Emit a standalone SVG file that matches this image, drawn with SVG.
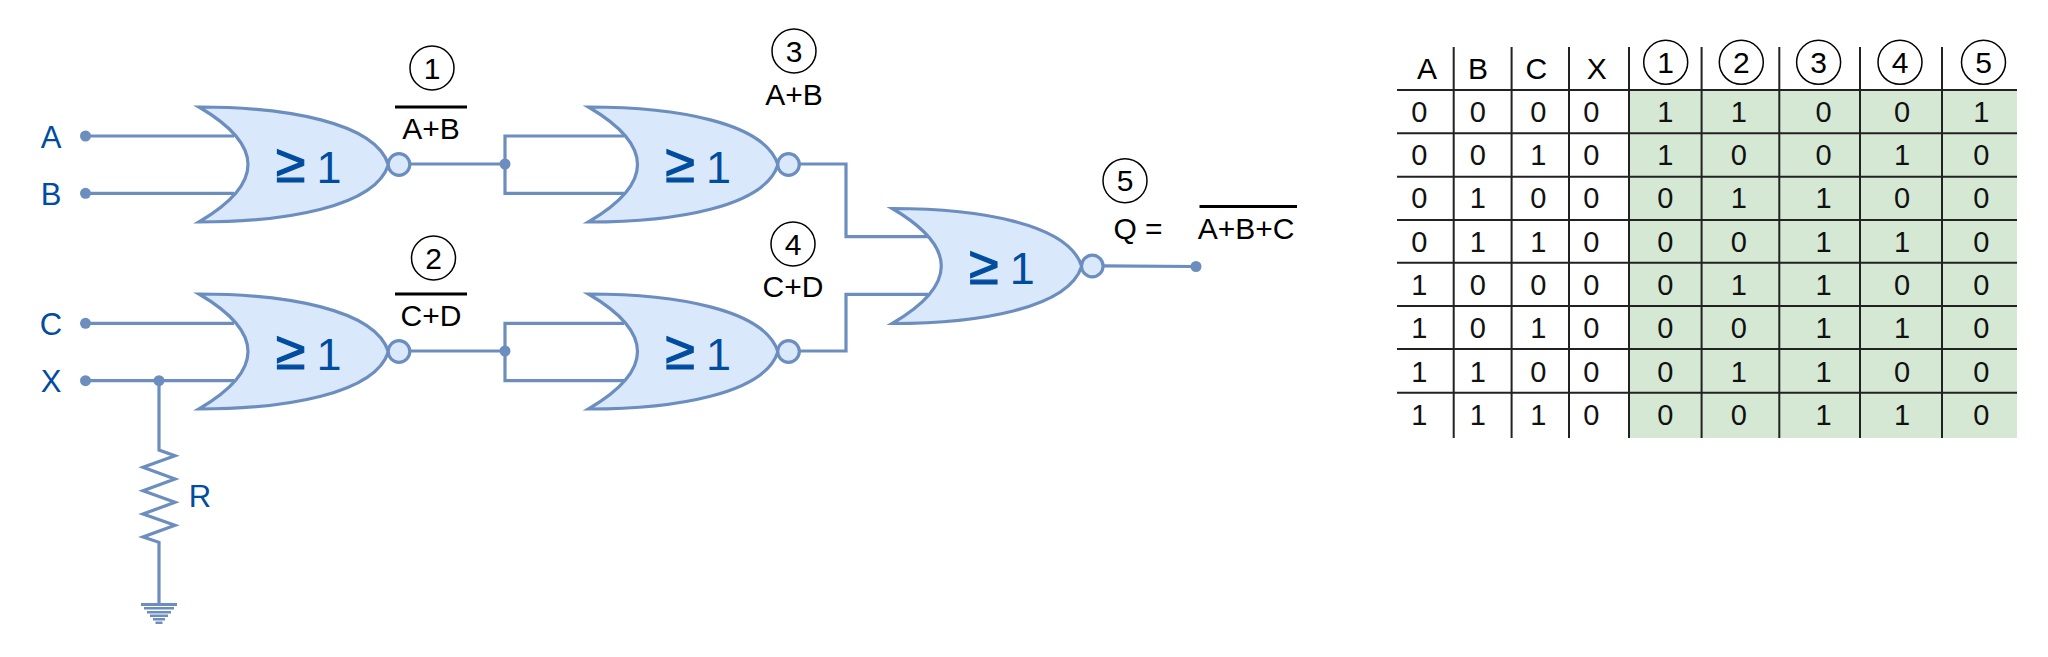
<svg xmlns="http://www.w3.org/2000/svg" width="2048" height="657" viewBox="0 0 2048 657">
<style>
text{font-family:"Liberation Sans",Arial,sans-serif}
.w{fill:none;stroke:#6c8ebf;stroke-width:3.200}
.d{fill:#6c8ebf}
.g{fill:#dae8fc;stroke:#6c8ebf;stroke-width:3.200}
.gt{font-size:45px;fill:#004c9f;text-anchor:middle}
.ge{font-size:54px;stroke:#004c9f;stroke-width:1.200}
.in{font-size:31px;fill:#004c9f;text-anchor:middle}
.k{font-size:30px;fill:#000;text-anchor:middle}
.c{fill:none;stroke:#000;stroke-width:1.5}
.t{font-size:29px;fill:#111;text-anchor:middle}
.tl{stroke:#222;stroke-width:2}
</style>
<defs>
<g id="nor">
<path class="g" d="M199 107C285 107 375 122 388.4 164.700C375 207 285 222 199 222Q297 164.700 199 107Z"/>
<circle class="g" cx="399" cy="164.500" r="10.800"/>
<text class="gt ge" x="290.500" y="182">≥</text>
<text class="gt" x="329" y="182.700">1</text>
</g>
</defs>
<g id="connectors">
<path class="w" d="M85 136H234M85 193.300H234M85 323.300H234M85 380.700H234"/>
<path class="w" d="M410 164H505M624 136H505V193.300H624"/>
<path class="w" d="M410 351H505M624 323.300H505V380.700H624"/>
<path class="w" d="M799 164H846V236.700H928M799 351H846V294.300H928"/>
<path class="w" d="M1103 265.800L1195 266.500"/>
<path class="w" d="M159 380.700V450L175 455.700L143 467.300L175 479L143 490.700L175 502.300L143 514L175 525.300L143 537L159 542.300V603"/>
<circle class="d" cx="85.500" cy="136" r="5.500"/>
<circle class="d" cx="85.500" cy="193.300" r="5.500"/>
<circle class="d" cx="85.500" cy="323.300" r="5.500"/>
<circle class="d" cx="85.500" cy="380.700" r="5.500"/>
<circle class="d" cx="159" cy="380.700" r="5.500"/>
<circle class="d" cx="505" cy="164" r="5.500"/>
<circle class="d" cx="505" cy="351" r="5.500"/>
<circle class="d" cx="1196" cy="266.500" r="5.500"/>
</g>
<g id="ground" fill="#6c8ebf">
<rect x="141" y="603" width="36" height="3"/>
<rect x="144" y="607" width="30" height="2.500"/>
<rect x="147" y="611" width="24" height="2.500"/>
<rect x="150" y="614.500" width="18" height="2.500"/>
<rect x="153" y="618" width="12" height="2.500"/>
<rect x="155.500" y="621.500" width="7" height="2.500"/>
</g>
<g id="gate1"><use href="#nor"/></g>
<g id="gate2"><use href="#nor" y="187"/></g>
<g id="gate3"><use href="#nor" x="389.500"/></g>
<g id="gate4"><use href="#nor" x="389.500" y="187"/></g>
<g id="gate5"><use href="#nor" x="693.300" y="101.500"/></g>
<g id="inputs">
<text class="in" x="51" y="148">A</text>
<text class="in" x="51" y="205">B</text>
<text class="in" x="51" y="335">C</text>
<text class="in" x="51" y="392">X</text>
<text class="in" x="200" y="506.700">R</text>
</g>
<g id="label1"><circle class="c" cx="432" cy="68" r="22"/><text class="k" x="432" y="78.500">1</text>
<rect x="395" y="105.500" width="72" height="3"/><text class="k" x="431" y="139">A+B</text></g>
<g id="label2"><circle class="c" cx="433.500" cy="258" r="22"/><text class="k" x="433.500" y="268.500">2</text>
<rect x="395" y="292.500" width="72" height="3"/><text class="k" x="431" y="326">C+D</text></g>
<g id="label3"><circle class="c" cx="794" cy="51" r="22"/><text class="k" x="794" y="61.500">3</text>
<text class="k" x="794" y="104.700">A+B</text></g>
<g id="label4"><circle class="c" cx="793" cy="244" r="22"/><text class="k" x="793" y="254.500">4</text>
<text class="k" x="793" y="297">C+D</text></g>
<g id="label5"><circle class="c" cx="1125" cy="180.700" r="22"/><text class="k" x="1125" y="191.200">5</text>
<text class="k" x="1138" y="239">Q =</text>
<rect x="1199.500" y="205" width="97.500" height="3"/><text class="k" x="1246" y="239">A+B+C</text></g>
<g id="table">
<rect x="1628" y="90" width="389" height="348" fill="#d5e8d4"/>
<path class="tl" d="M1397 90H2017M1397 133.300H2017M1397 176.700H2017M1397 220H2017M1397 262.700H2017M1397 306H2017M1397 349H2017M1397 392.700H2017"/>
<path class="tl" d="M1453.700 47V438M1511.600 47V438M1569 47V438M1629 47V438M1701.600 47V438M1779.300 47V438M1860 47V438M1942 47V438"/>
<text class="k" x="1427" y="79.300">A</text><text class="k" x="1478" y="79.300">B</text><text class="k" x="1536.400" y="79.300">C</text><text class="k" x="1596.700" y="79.300">X</text>
<circle class="c" cx="1665.700" cy="62.300" r="22"/><text class="k" x="1665.700" y="72.700">1</text>
<circle class="c" cx="1741.300" cy="62.300" r="22"/><text class="k" x="1741.300" y="72.700">2</text>
<circle class="c" cx="1818.600" cy="62.300" r="22"/><text class="k" x="1818.600" y="72.700">3</text>
<circle class="c" cx="1900" cy="62.300" r="22"/><text class="k" x="1900" y="72.700">4</text>
<circle class="c" cx="1983.500" cy="62.300" r="22"/><text class="k" x="1983.500" y="72.700">5</text>
<text class="t" x="1419.400" y="121.700">0</text><text class="t" x="1477.700" y="121.700">0</text><text class="t" x="1538.400" y="121.700">0</text><text class="t" x="1591.300" y="121.700">0</text><text class="t" x="1665.300" y="121.700">1</text><text class="t" x="1738.800" y="121.700">1</text><text class="t" x="1823.600" y="121.700">0</text><text class="t" x="1902" y="121.700">0</text><text class="t" x="1981.400" y="121.700">1</text>
<text class="t" x="1419.400" y="165">0</text><text class="t" x="1477.700" y="165">0</text><text class="t" x="1538.400" y="165">1</text><text class="t" x="1591.300" y="165">0</text><text class="t" x="1665.300" y="165">1</text><text class="t" x="1738.800" y="165">0</text><text class="t" x="1823.600" y="165">0</text><text class="t" x="1902" y="165">1</text><text class="t" x="1981.400" y="165">0</text>
<text class="t" x="1419.400" y="208.300">0</text><text class="t" x="1477.700" y="208.300">1</text><text class="t" x="1538.400" y="208.300">0</text><text class="t" x="1591.300" y="208.300">0</text><text class="t" x="1665.300" y="208.300">0</text><text class="t" x="1738.800" y="208.300">1</text><text class="t" x="1823.600" y="208.300">1</text><text class="t" x="1902" y="208.300">0</text><text class="t" x="1981.400" y="208.300">0</text>
<text class="t" x="1419.400" y="251.600">0</text><text class="t" x="1477.700" y="251.600">1</text><text class="t" x="1538.400" y="251.600">1</text><text class="t" x="1591.300" y="251.600">0</text><text class="t" x="1665.300" y="251.600">0</text><text class="t" x="1738.800" y="251.600">0</text><text class="t" x="1823.600" y="251.600">1</text><text class="t" x="1902" y="251.600">1</text><text class="t" x="1981.400" y="251.600">0</text>
<text class="t" x="1419.400" y="295">1</text><text class="t" x="1477.700" y="295">0</text><text class="t" x="1538.400" y="295">0</text><text class="t" x="1591.300" y="295">0</text><text class="t" x="1665.300" y="295">0</text><text class="t" x="1738.800" y="295">1</text><text class="t" x="1823.600" y="295">1</text><text class="t" x="1902" y="295">0</text><text class="t" x="1981.400" y="295">0</text>
<text class="t" x="1419.400" y="338.300">1</text><text class="t" x="1477.700" y="338.300">0</text><text class="t" x="1538.400" y="338.300">1</text><text class="t" x="1591.300" y="338.300">0</text><text class="t" x="1665.300" y="338.300">0</text><text class="t" x="1738.800" y="338.300">0</text><text class="t" x="1823.600" y="338.300">1</text><text class="t" x="1902" y="338.300">1</text><text class="t" x="1981.400" y="338.300">0</text>
<text class="t" x="1419.400" y="381.600">1</text><text class="t" x="1477.700" y="381.600">1</text><text class="t" x="1538.400" y="381.600">0</text><text class="t" x="1591.300" y="381.600">0</text><text class="t" x="1665.300" y="381.600">0</text><text class="t" x="1738.800" y="381.600">1</text><text class="t" x="1823.600" y="381.600">1</text><text class="t" x="1902" y="381.600">0</text><text class="t" x="1981.400" y="381.600">0</text>
<text class="t" x="1419.400" y="425">1</text><text class="t" x="1477.700" y="425">1</text><text class="t" x="1538.400" y="425">1</text><text class="t" x="1591.300" y="425">0</text><text class="t" x="1665.300" y="425">0</text><text class="t" x="1738.800" y="425">0</text><text class="t" x="1823.600" y="425">1</text><text class="t" x="1902" y="425">1</text><text class="t" x="1981.400" y="425">0</text>
</g>
</svg>
